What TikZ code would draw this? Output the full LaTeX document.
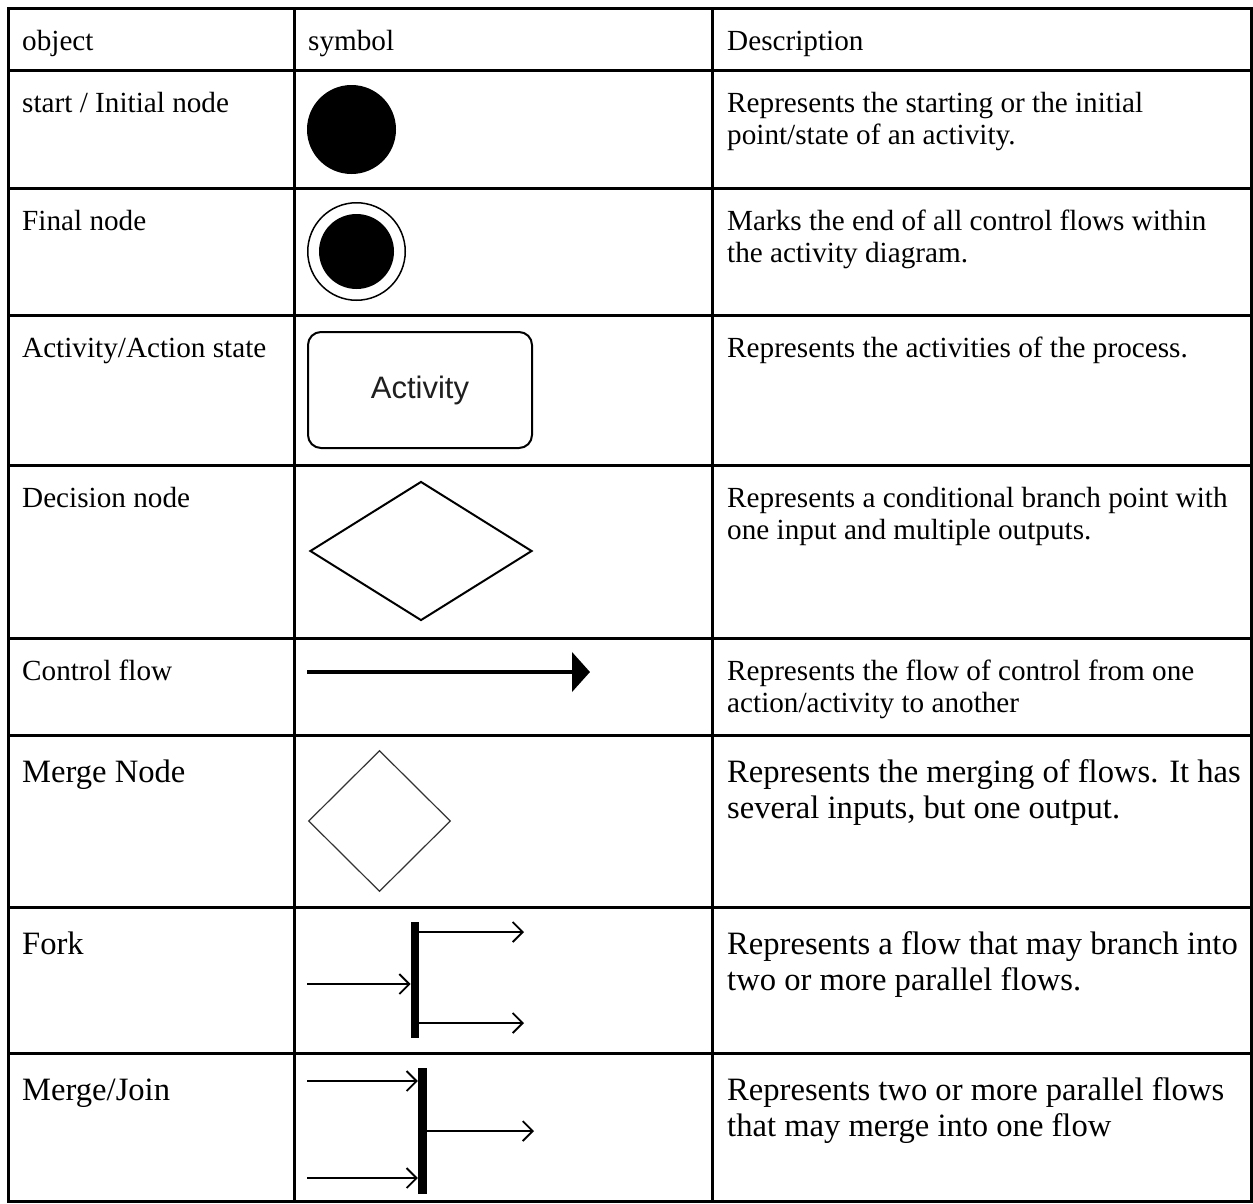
\documentclass[tikz,border=0pt]{standalone}
\usepackage{fontspec}
\setmainfont{Liberation Serif}
\newfontfamily\actfont{Liberation Sans}
\usetikzlibrary{arrows.meta,shapes.geometric}

\begin{document}
\begin{tikzpicture}[x=1pt,y=-1pt,
  grid/.style={line width=3pt},
  cell/.style={anchor=base west,inner sep=0pt,font=\fontsize{29.2}{32}\selectfont},
  cellbig/.style={anchor=base west,inner sep=0pt,font=\fontsize{32.6}{36}\selectfont},
  flowarrow/.style={line width=1.8pt,-{Straight Barb[length=10pt,width=20pt,line width=1.8pt]}},
  forkbar/.style={fill=black,inner sep=0pt,minimum width=8.5pt},
  dot/.style={circle,fill=black,inner sep=0pt},
]
\useasboundingbox (0,0) rectangle (1253,1203);
\fill[white] (0,0) rectangle (1253,1203);

% table grid
\draw[grid] (8,8) rectangle (1251,1201);
\draw[grid] (294,8) -- (294,1201) (712,8) -- (712,1201);
\foreach \yy in {70,188,315,465,638,735,907,1053}
  \draw[grid] (8,\yy) -- (1251,\yy);

% header
\node[cell] (h1) at (22,50) {object};
\node[cell] (h2) at (308,50) {symbol};
\node[cell] (h3) at (727,50) {Description};

% row labels
\node[cell] (o1) at (22,112.5) {start / Initial node};
\node[cell] (o2) at (22,230.5) {Final node};
\node[cell] (o3) at (22,357.5) {Activity/Action state};
\node[cell] (o4) at (22,507.5) {Decision node};
\node[cell] (o5) at (22,680.5) {Control flow};
\node[cellbig] (o6) at (22,782) {Merge Node};
\node[cellbig] (o7) at (22,954) {Fork};
\node[cellbig] (o8) at (22,1100) {Merge/Join};

% descriptions
\node[cell] (d1a) at (727,112.5) {Represents the starting or the initial};
\node[cell] (d1b) at (727,144.5) {point/state of an activity.};
\node[cell] (d2a) at (727,230.5) {Marks the end of all control flows within};
\node[cell] (d2b) at (727,262.5) {the activity diagram.};
\node[cell] (d3a) at (727,357.5) {Represents the activities of the process.};
\node[cell] (d4a) at (727,507.5) {Represents a conditional branch point with};
\node[cell] (d4b) at (727,539.5) {one input and multiple outputs.};
\node[cell] (d5a) at (727,680.5) {Represents the flow of control from one};
\node[cell] (d5b) at (727,712.5) {action/activity to another};
\node[cellbig] (d6a) at (727,782) {Represents the merging of flows. It has};
\node[cellbig] (d6b) at (727,818) {several inputs, but one output.};
\node[cellbig] (d7a) at (727,954) {Represents a flow that may branch into};
\node[cellbig] (d7b) at (727,990) {two or more parallel flows.};
\node[cellbig] (d8a) at (727,1100) {Represents two or more parallel flows};
\node[cellbig] (d8b) at (727,1136) {that may merge into one flow};

% initial node
\node[dot,minimum size=89pt] (start) at (351.5,129.5) {};

% final node
\node[circle,draw,line width=1.5pt,minimum size=97.5pt,inner sep=0pt] (finalring) at (356.5,251.5) {};
\node[dot,minimum size=75pt] (finaldot) at (finalring.center) {};

% activity
\node[draw,line width=2pt,rounded corners=13pt,minimum width=224pt,minimum height=116pt,
      inner sep=0pt,text=black!88,font=\actfont\fontsize{31}{31}\selectfont] (act) at (420,390) {Activity};

% decision node
\node[diamond,draw,line width=2pt,minimum width=222pt,minimum height=139pt,inner sep=0pt] (decision) at (421,551) {};

% control flow
\coordinate (cfA) at (307,672);
\coordinate (cfB) at (590,672);
\draw[line width=4.5pt,-{Triangle[length=18pt,width=39pt]}] (cfA) -- (cfB);

% merge node
\node[diamond,draw=black!80,line width=1.2pt,minimum width=142pt,minimum height=141pt,inner sep=0pt] (merge) at (379.5,821) {};

% fork
\node[forkbar,minimum height=116pt] (fork) at (415,980) {};
\coordinate (forkin) at (307,984);
\coordinate (forkoutA) at (524,932);
\coordinate (forkoutB) at (524,1023);
\draw[flowarrow] (forkin) -- (forkin -| fork.west);
\draw[flowarrow] (forkoutA -| fork.east) -- (forkoutA);
\draw[flowarrow] (forkoutB -| fork.east) -- (forkoutB);

% join
\node[forkbar,minimum width=9pt,minimum height=126pt] (join) at (422.5,1131) {};
\coordinate (joininA) at (307,1081);
\coordinate (joininB) at (307,1178);
\coordinate (joinout) at (534,1131);
\draw[flowarrow] (joininA) -- (joininA -| join.west);
\draw[flowarrow] (joininB) -- (joininB -| join.west);
\draw[flowarrow] (joinout -| join.east) -- (joinout);
\end{tikzpicture}
\end{document}
